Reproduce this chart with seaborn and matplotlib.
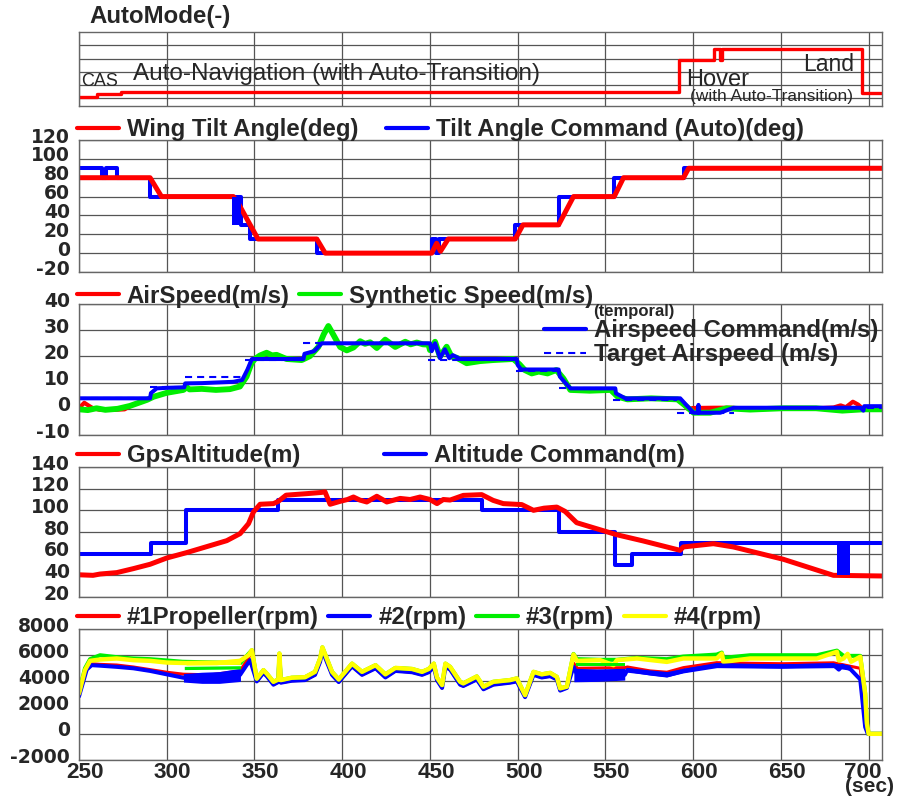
import matplotlib
matplotlib.use('Agg')
import matplotlib.pyplot as plt
import seaborn as sns
from matplotlib.lines import Line2D
from matplotlib.transforms import ScaledTranslation

# ---- values, (time sec, value) ----
x_ticks = [250, 300, 350, 400, 450, 500, 550, 600, 650, 700]

auto_mode = [(250, 1.12), (260.4, 1.30), (273.8, 1.5), (592, 3.9), (612, 4.73),
             (615.5, 3.9), (616.5, 4.73), (696, 1.38), (707.6, 1.38)]

tilt_angle = [(250, 80), (290.5, 80), (297, 60), (338, 60), (341, 52), (352, 15),
              (385.5, 15), (390.3, 0), (451, 0), (453.8, 10.5), (456, 2), (460.4, 15),
              (498.6, 15), (503, 30), (523.3, 30), (531.8, 60), (555, 60), (560.3, 80),
              (594.5, 80), (597.4, 90), (707.6, 90)]
tilt_cmd = [(250, 90), (262.9, 80), (265.4, 90), (271.5, 80), (290.5, 60), (342.2, 30),
            (347.5, 15), (385.5, 0), (451, 15), (453.5, 0), (455, 15), (498.6, 30),
            (523.3, 60), (555, 80), (594.5, 90), (707.6, 90)]
tilt_cmd_block = [(337.4, 30, 60), (342.2, 30, 60)]

synthetic_speed = [(250, -0.2), (255, -0.5), (260, 0.2), (265, -0.4), (272, 0), (279, 1.1),
                   (288.7, 3.4), (292.5, 4.6), (300, 6.1), (309.5, 7.2), (311.4, 8.2), (313, 7.4),
                   (320, 7.6), (328, 7.2), (336, 7.5), (341.7, 8.5), (345.5, 12.3), (348.3, 17.4),
                   (350.2, 19), (353, 20.3), (356.9, 21.4), (360, 20.4), (362.6, 20.6), (368.3, 19),
                   (376.9, 18.6), (381.6, 20.1), (386.4, 23.6), (389.5, 28.5), (392.1, 31.6),
                   (395, 28.2), (398.8, 23.6), (402.6, 22.3), (406.4, 23.4), (410.2, 25.8),
                   (413, 24.8), (415.9, 25.4), (419.7, 23.2), (424.5, 26.4), (430.2, 23.6),
                   (435.9, 25.6), (439, 24.6), (442.5, 25.3), (446, 24.6), (449.2, 24.5),
                   (450, 22.4), (452.9, 25.6), (455.7, 19.9), (459.5, 23.7), (462.3, 19.9),
                   (465.2, 19.5), (470.9, 17.4), (478.5, 18.2), (486.1, 18.6), (497.5, 19),
                   (501, 17), (504, 14.8), (508, 13.5), (512, 14.2), (517, 13.5), (522, 14.8),
                   (526, 11.6), (530, 7.2), (541, 6.9), (553, 7.2), (557, 4.6), (562.6, 3.6),
                   (576, 4), (591, 3.6), (595, 1.5), (600.2, -1.5), (609.7, -1.5), (619, 0.2),
                   (632.5, -0.3), (651, 0.2), (670, 0.2), (685, -0.7), (697, -0.2), (707.6, -0.2)]
airspeed_start = [(250, 0.2), (253, 2.3), (256, 1.0), (258, 0.2), (262, -0.4), (270, -0.4),
                  (276, -0.2), (279, 1.0), (283, 2.1)]
airspeed_end = [(597, 0.0), (600, 0.3), (612, 0.4), (622, 0.4), (632.5, -0.3), (651, 0.2),
                (670, 0.2), (680, 0.5), (684, 1.3), (687, 0.6), (691, 2.7), (694, 1.6),
                (697, -0.2), (707.6, -0.2)]
airspeed = airspeed_start + [p for p in synthetic_speed if 288 <= p[0] <= 595] + airspeed_end
airspeed_cmd = [(250, 4), (290.5, 4), (291, 6), (294.3, 7.8), (300, 8), (310, 8.2), (310.5, 9.7),
                (320, 9.8), (338, 10.3), (343, 11), (346, 15), (348.5, 19), (377.9, 19),
                (378.5, 21), (384, 22), (388.4, 25), (450.1, 25), (451, 22), (452.9, 25),
                (455.7, 19.3), (458.5, 22.7), (461, 19.3), (463, 20.5), (467.2, 19), (499.5, 19),
                (500, 16.7), (502, 15), (523.3, 15), (524, 12.3), (527, 10), (530, 7.8),
                (555.6, 7.8), (556, 5.9), (561.3, 4), (592.6, 4), (596, 1.5), (600.2, -1.5),
                (602.8, -1.5), (603, 1.5), (603.2, -1.5), (615.4, -1.5), (623, 0.4),
                (695.3, 0.4), (697, -0.7), (697.5, 1), (707.6, 1)]
# target airspeed: (start, end, level) of each held value
target_airspeed = [(250, 290.3, 4), (290.3, 310.2, 8.2), (310.2, 344.8, 12), (344.8, 377.8, 18.6),
                   (377.8, 449, 25.3), (449, 499, 18.6), (499, 523.3, 14.5), (523.3, 554.5, 7.8),
                   (554.5, 590.8, 3.4), (590.8, 600, -1.7), (600, 623, -1.5), (623, 707.6, 0.4)]

gps_altitude = [(250, 40.5), (258, 40), (262, 41.2), (271.5, 42.5), (281, 46.2), (290.5, 50.2),
                (300, 56), (311.4, 61), (322.8, 66.5), (334.2, 72), (341.8, 78.5), (346.6, 87.7),
                (349.4, 98.5), (353.2, 105.6), (360.8, 106.2), (363.6, 108.3), (368, 114),
                (379.8, 115.4), (388, 116.5), (390.2, 117), (393.1, 105.6), (398.8, 108.3),
                (403, 110), (406.4, 112.3), (410, 109.5), (414, 107.7), (419.7, 113),
                (425.4, 107.7), (433, 111), (438.7, 110), (444.4, 112.3), (450, 110),
                (454, 106.2), (457.6, 110), (461.5, 109.5), (469, 113.8), (479.5, 114.5),
                (486, 109.2), (491.8, 106.2), (502.3, 105.3), (509, 100), (515, 102),
                (522.3, 103), (527, 99), (533.6, 88.6), (543, 84), (556.4, 77.5), (571.6, 71.7),
                (592.5, 63.1), (594.4, 66.2), (611.5, 69.2), (622.9, 66.2), (651.4, 54.8),
                (679.9, 40), (707.6, 39.4)]
altitude_cmd = [(250, 60), (291, 70), (310.8, 100), (363.6, 110), (479.5, 100), (523.8, 80),
                (555.2, 50), (565.1, 60), (593.2, 70), (707.6, 70)]
altitude_cmd_block = [(682, 40, 70), (689.3, 40, 70)]

rpm4_left = [(250, 3075), (253.4, 4860), (256.3, 5570), (262, 5670), (271.5, 5750), (281, 5620),
             (290.5, 5570), (300, 5440), (311.4, 5400), (328.5, 5400), (341.8, 5570), (346.6, 6000)]
rpm4_mid = [(348.5, 6380), (351.3, 4210), (355.1, 4860), (357, 4600), (360.8, 3970),
            (363.6, 4150), (364.2, 6130), (365, 4100), (371.2, 4280), (378.8, 4320),
            (384.5, 4730), (387.4, 5750), (388.7, 6600), (391.2, 5750), (394.2, 4730),
            (398, 4150), (405.6, 5360), (411.3, 4730), (419, 5240), (424.6, 4540), (430.3, 5030),
            (439.8, 4950), (445.5, 4730), (449.3, 4950), (452.2, 5360), (454, 4300),
            (456.9, 3720), (458.8, 5360), (461.5, 5110), (467.2, 3970), (469, 3850),
            (476.7, 4380), (480.5, 3600), (486.1, 3970), (495.6, 4100), (499.5, 4230),
            (504.2, 2950), (509, 4730), (513.7, 4540), (518.5, 4650), (522.3, 4350),
            (524.2, 3470), (528, 3600)]
rpm4_right = [(531.8, 6060), (533.7, 5570), (547, 5620), (554.6, 5240), (556.5, 5620),
              (567.9, 5750), (585, 5490), (594.4, 5750), (613.4, 5750), (616.3, 6130),
              (617.2, 5490), (632.5, 5750), (670.5, 5750), (681.9, 6260), (683, 5600),
              (685.7, 5750), (688, 6100), (690, 5500), (695.2, 5880), (698, 3070), (699, 770),
              (700, 0), (707.6, 0)]
rpm4_bands = [[(311, 5250, 5600), (342, 5300, 5650)]]
rpm3_left = [(250, 3200), (253.4, 5000), (256.3, 5700), (262, 6000), (271.5, 5850), (281, 5750),
             (290.5, 5700), (300, 5600), (309, 5500), (342, 5400), (346.6, 6100)]
rpm3_right = [(531.8, 6100), (533.7, 5700), (547, 5650), (556.5, 5650), (567.9, 5800),
              (585, 5700), (594.4, 5900), (613.4, 6050), (616.3, 6200), (617.2, 5800),
              (632.5, 6000), (670.5, 6000), (681.9, 6350), (685.7, 5950), (695.2, 5950),
              (698, 3100), (699, 800), (700, 0), (707.6, 0)]
rpm3_bands = [[(310, 4900, 5150), (342, 4950, 5200)], [(533, 5150, 5400), (561, 5150, 5400)]]
rpm2_left = [(250, 2850), (254.4, 4900), (257.2, 5240), (262, 5200), (271.5, 5110), (281, 5000),
             (290.5, 4800), (300, 4540), (309.5, 4280), (325, 4200), (341.8, 4500),
             (345.5, 5240), (347.5, 5620)]
rpm2_mid = [(351.3, 4000), (355.1, 4650), (357, 4400), (360.8, 3750), (363.6, 3950),
            (364.2, 5900), (365, 3900), (371.2, 4050), (378.8, 4100), (384.5, 4500),
            (387.4, 5500), (388.7, 6350), (391.2, 5500), (394.2, 4500), (398, 3950),
            (405.6, 5150), (411.3, 4500), (419, 5000), (424.6, 4300), (430.3, 4800),
            (439.8, 4700), (445.5, 4500), (449.3, 4700), (452.2, 5100), (454, 4100),
            (456.9, 3500), (458.8, 5100), (461.5, 4900), (467.2, 3750), (469, 3650),
            (476.7, 4150), (480.5, 3400), (486.1, 3750), (495.6, 3900), (499.5, 4000),
            (504.2, 2800), (509, 4500), (513.7, 4300), (518.5, 4400), (522.3, 4150),
            (524.2, 3300), (528, 3500)]
rpm2_right = [(531.8, 5110), (534, 4500), (561, 4500), (562.5, 4880), (575.5, 4600),
              (585, 4450), (594.4, 4800), (613.4, 5250), (632.5, 5180), (651.5, 5150),
              (680, 5250), (683, 4900), (685, 5200), (689.5, 4950), (695.2, 4150), (698, 520),
              (699.5, 0), (707.6, 0)]
rpm2_bands = [[(309.5, 3950, 4600), (320, 3850, 4700), (330, 3850, 4750), (342, 4000, 5000)],
              [(532, 3970, 5000), (545, 4000, 4950), (561, 4100, 5000)],
              [(562.5, 4700, 5050), (585, 4350, 4750), (594.4, 4650, 5000), (613.4, 5050, 5400),
               (650, 5000, 5350), (680, 5050, 5400), (689.5, 4850, 5250)]]
rpm1_left = [(250, 2950), (254.4, 5000), (257.2, 5350), (262, 5300), (271.5, 5250), (281, 5100),
             (290.5, 4900), (300, 4700), (309.5, 4550), (325, 4500), (341.8, 4800),
             (346.6, 5800), (348.5, 6200)]
rpm1_right = [(531.8, 5400), (534, 5000), (561, 5050), (562.5, 5100), (575.5, 4800),
              (585, 4700), (594.4, 5050), (613.4, 5430), (632.5, 5380), (651.5, 5350),
              (680, 5420), (695.2, 5000), (698, 1500), (699.5, 0), (707.6, 0)]
rpm1 = rpm1_left + rpm2_mid + rpm1_right
rpm2 = rpm2_left + rpm2_mid + rpm2_right
rpm3 = rpm3_left + rpm4_mid + rpm3_right
rpm4 = rpm4_left + rpm4_mid + rpm4_right

RED, BLUE, GREEN, YELLOW = '#ff0000', '#0000ff', '#00ee00', '#ffff00'
TARGET_DASH = (0, (3.4, 2.4))

sns.set_theme(style='white')
plt.rcParams['font.family'] = ['Liberation Sans', 'DejaVu Sans']
plt.rcParams['axes.unicode_minus'] = False

fig = plt.figure(figsize=(9.01, 7.99), dpi=100)
W_PX, H_PX = 901, 799


def rect(top, bot):
    return [79 / W_PX, 1 - bot / H_PX, 803 / W_PX, (bot - top) / H_PX]


def line(ax, pts, color, lw, **kw):
    sns.lineplot(x=[p[0] for p in pts], y=[p[1] for p in pts], ax=ax, color=color,
                 linewidth=lw, estimator=None, sort=False, legend=False, **kw)


def band(ax, pts, color):
    ax.fill_between([p[0] for p in pts], [p[1] for p in pts], [p[2] for p in pts],
                    color=color, lw=0, zorder=2.5)


def shift(lab, dx, dy):
    lab.set_transform(lab.get_transform() + ScaledTranslation(dx / 72, dy / 72, fig.dpi_scale_trans))


def style(ax, ylim, yticks, xlabels=False):
    ax.set_xlim(250, 707.6)
    ax.set_ylim(*ylim)
    ax.set_xticks(x_ticks)
    ax.set_yticks(yticks)
    ax.set_axisbelow(True)
    ax.grid(True, color='#555555', lw=0.9)
    for s in ax.spines.values():
        s.set_color('#666666')
        s.set_linewidth(1.0)
    ax.set_xlabel('')
    ax.set_ylabel('')
    ax.tick_params(axis='y', length=0, pad=6.5, labelsize=13.5, labelfontfamily='DejaVu Sans')
    ax.tick_params(axis='x', length=0, pad=1.5, labelsize=16.2, labelbottom=xlabels)
    for lab in ax.get_yticklabels():
        lab.set_fontweight('bold')
        shift(lab, 0, 3.5)
    if xlabels:
        xlabs = [t.label1 for t in ax.xaxis.get_major_ticks()]
        for lab in xlabs:
            lab.set_fontweight('bold')
            shift(lab, 4.3, 0)
        shift(xlabs[-1], -8.3, 0)


LEG_FONT = dict(family='Liberation Sans', weight='bold', size=17.3)


def top_legend(ax, items, y, colsp):
    handles = [Line2D([], [], color=c, lw=3.0, label=t) for c, t in items]
    return ax.legend(handles=handles, loc='center left', bbox_to_anchor=(-0.003, y),
                     ncol=len(handles), frameon=False, borderpad=0, borderaxespad=0,
                     handlelength=1.75, handletextpad=0.33, columnspacing=colsp, prop=LEG_FONT)


# ---- AutoMode ----
ax1 = fig.add_axes(rect(32, 106))
line(ax1, auto_mode, RED, 2.4, drawstyle='steps-post')
style(ax1, (0.42, 6), [1, 2, 3, 4, 5])
ax1.tick_params(axis='y', labelleft=False)
fig.text(89 / W_PX, 1 - 17 / H_PX, 'AutoMode(-)', fontsize=17.3, weight='bold', va='center')
ax1.text(251.3, 1.93, 'CAS', fontsize=13, va='baseline')
ax1.text(280.8, 2.39, 'Auto-Navigation (with Auto-Transition)', fontsize=17.5, va='baseline')
ax1.text(596, 1.93, 'Hover', fontsize=17, va='baseline')
ax1.text(598.3, 0.8, '(with Auto-Transition)', fontsize=12.4, va='baseline')
ax1.text(662.8, 3.07, 'Land', fontsize=16.5, va='baseline')

# ---- Tilt angle ----
ax2 = fig.add_axes(rect(140, 272))
line(ax2, tilt_cmd, BLUE, 2.9, drawstyle='steps-post')
band(ax2, tilt_cmd_block, BLUE)
line(ax2, tilt_angle, RED, 3.6)
style(ax2, (-20, 120), [-20, 0, 20, 40, 60, 80, 100, 120])
top_legend(ax2, [(RED, 'Wing Tilt Angle(deg)'), (BLUE, 'Tilt Angle Command (Auto)(deg)')],
           1.076, 1.15)

# ---- Airspeed ----
ax3 = fig.add_axes(rect(304, 435))
line(ax3, airspeed, RED, 3.0)
line(ax3, synthetic_speed, GREEN, 4.2)
ax3.hlines([s[2] for s in target_airspeed], [s[0] for s in target_airspeed],
           [s[1] for s in target_airspeed], colors=BLUE, lw=1.5, linestyles=[TARGET_DASH], zorder=2.2)
line(ax3, airspeed_cmd, BLUE, 2.9)
style(ax3, (-10, 40), [-10, 0, 10, 20, 30, 40])
leg = top_legend(ax3, [(RED, 'AirSpeed(m/s)'), (GREEN, 'Synthetic Speed(m/s)')], 1.061, 0.4)
ax3.add_artist(leg)
h_cmd = Line2D([], [], color=BLUE, lw=3.0, label='Airspeed Command(m/s)')
h_tgt = Line2D([], [], color=BLUE, lw=1.5, linestyle=TARGET_DASH, label='Target Airspeed (m/s)')
ax3.legend(handles=[h_cmd, h_tgt], loc='upper right', bbox_to_anchor=(1 - 4 / 803, 1 - 15 / 131),
           frameon=False, borderpad=0, borderaxespad=0, handlelength=1.75, handletextpad=0.33,
           labelspacing=0.05, prop=LEG_FONT)
ax3.text(543, 37.3, '(temporal)', fontsize=12, weight='bold', va='center')

# ---- Altitude ----
ax4 = fig.add_axes(rect(467, 597))
line(ax4, altitude_cmd, BLUE, 2.9, drawstyle='steps-post')
line(ax4, gps_altitude, RED, 3.6)
band(ax4, altitude_cmd_block, BLUE)
style(ax4, (20, 140), [20, 40, 60, 80, 100, 120, 140])
top_legend(ax4, [(RED, 'GpsAltitude(m)'), (BLUE, 'Altitude Command(m)')], 1.085, 3.5)

# ---- Propeller rpm ----
ax5 = fig.add_axes(rect(629, 760))
line(ax5, rpm1, RED, 2.2)
line(ax5, rpm2, BLUE, 2.9)
for b in rpm2_bands:
    band(ax5, b, BLUE)
line(ax5, rpm3, GREEN, 2.9)
for b in rpm3_bands:
    band(ax5, b, GREEN)
line(ax5, rpm4, YELLOW, 3.2)
for b in rpm4_bands:
    band(ax5, b, YELLOW)
style(ax5, (-2000, 8000), [-2000, 0, 2000, 4000, 6000, 8000], xlabels=True)
top_legend(ax5, [(RED, '#1Propeller(rpm)'), (BLUE, '#2(rpm)'), (GREEN, '#3(rpm)'),
                 (YELLOW, '#4(rpm)')], 1.084, 0.4)
fig.text(845 / W_PX, 1 - 787 / H_PX, '(sec)', fontsize=15, weight='bold', va='center')

fig.savefig('out.png', dpi=100)
